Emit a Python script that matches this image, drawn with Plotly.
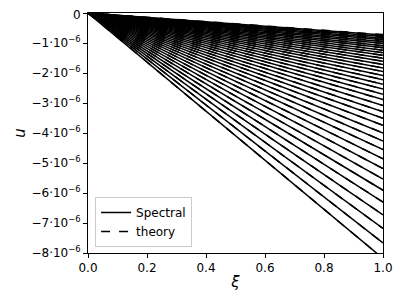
import plotly.graph_objects as go

# end values of u at xi = 1 (units of 1e-6)
spectral_end = [8.18, 7.665, 7.182, 6.729, 6.305, 5.908, 5.536, 5.187, 4.860, 4.554,
                4.267, 3.998, 3.746, 3.510, 3.289, 3.082, 2.888, 2.706, 2.535, 2.376,
                2.226, 2.086, 1.954, 1.831, 1.716, 1.608, 1.506, 1.411, 1.322, 1.239,
                1.161, 1.088, 1.019, 0.955, 0.895, 0.839, 0.786, 0.736]
theory_end = [8.18, 7.665, 7.182, 6.729, 6.305, 5.908, 5.536, 5.187, 4.860, 4.554,
              4.267, 3.998, 3.746, 3.510, 3.289, 3.082, 2.888, 2.706, 2.535, 2.376,
              2.226, 2.086, 1.954, 1.831, 1.716, 1.608, 1.506, 1.411, 1.322, 1.239,
              1.161, 1.088, 1.019, 0.945, 0.880, 0.822, 0.770, 0.720]
xi_pts = [0.0, 1.0]
ytick_vals = [0, -1, -2, -3, -4, -5, -6, -7, -8]
ytick_text = ["0"] + ["\u2212%d\u00b710<sup>\u22126</sup>" % k for k in range(1, 9)]
xtick_vals = [0.0, 0.2, 0.4, 0.6, 0.8, 1.0]
xtick_text = ["0.0", "0.2", "0.4", "0.6", "0.8", "1.0"]

fig = go.Figure()
for i, a in enumerate(spectral_end):
    fig.add_trace(go.Scatter(x=xi_pts, y=[0.0, -a * 1e-6], mode="lines",
                             line=dict(color="black", width=1.5),
                             name="Spectral", legendgroup="s", showlegend=(i == 0)))
for i, a in enumerate(theory_end):
    fig.add_trace(go.Scatter(x=xi_pts, y=[0.0, -a * 1e-6], mode="lines",
                             line=dict(color="black", width=1.5, dash="dash"),
                             name="theory", legendgroup="t", showlegend=(i == 0)))

# the "0" label sits at the very top edge; draw it as an annotation so it is not culled
fig.add_annotation(x=0, xref="paper", y=ytick_vals[0] * 1e-6, yref="y",
                   text=ytick_text[0], showarrow=False, xanchor="right", yanchor="middle",
                   xshift=-5, yshift=-2, font=dict(size=12, color="black"))

# page body has an 8px margin, so the figure is sized to fit the window
fig.update_layout(
    width=395, height=294,
    margin=dict(l=80, r=20, t=5, b=49),
    plot_bgcolor="white", paper_bgcolor="white",
    font=dict(family="DejaVu Sans", size=12, color="black"),
    legend=dict(x=0.024, y=0.025, xanchor="left", yanchor="bottom",
                bgcolor="rgba(255,255,255,0.8)", bordercolor="#cccccc", borderwidth=1,
                font=dict(size=12), tracegroupgap=0),
)
fig.update_xaxes(range=[0, 1], tickvals=xtick_vals, ticktext=xtick_text, automargin=False,
                 showgrid=False, zeroline=False, showline=True, linecolor="black",
                 linewidth=1, mirror=True, ticks="outside", ticklen=4, tickcolor="black",
                 title=dict(text="<i>ξ</i>", font=dict(size=15), standoff=2))
fig.update_yaxes(range=[-8e-6, 0], tickvals=[v * 1e-6 for v in ytick_vals],
                 ticktext=[""] + ytick_text[1:],
                 automargin=False,
                 showgrid=False, zeroline=False, showline=True, linecolor="black",
                 linewidth=1, mirror=True, ticks="outside", ticklen=4, tickcolor="black",
                 title=dict(text="<i>u</i>", font=dict(size=15), standoff=2))

fig.write_html("out.html")
